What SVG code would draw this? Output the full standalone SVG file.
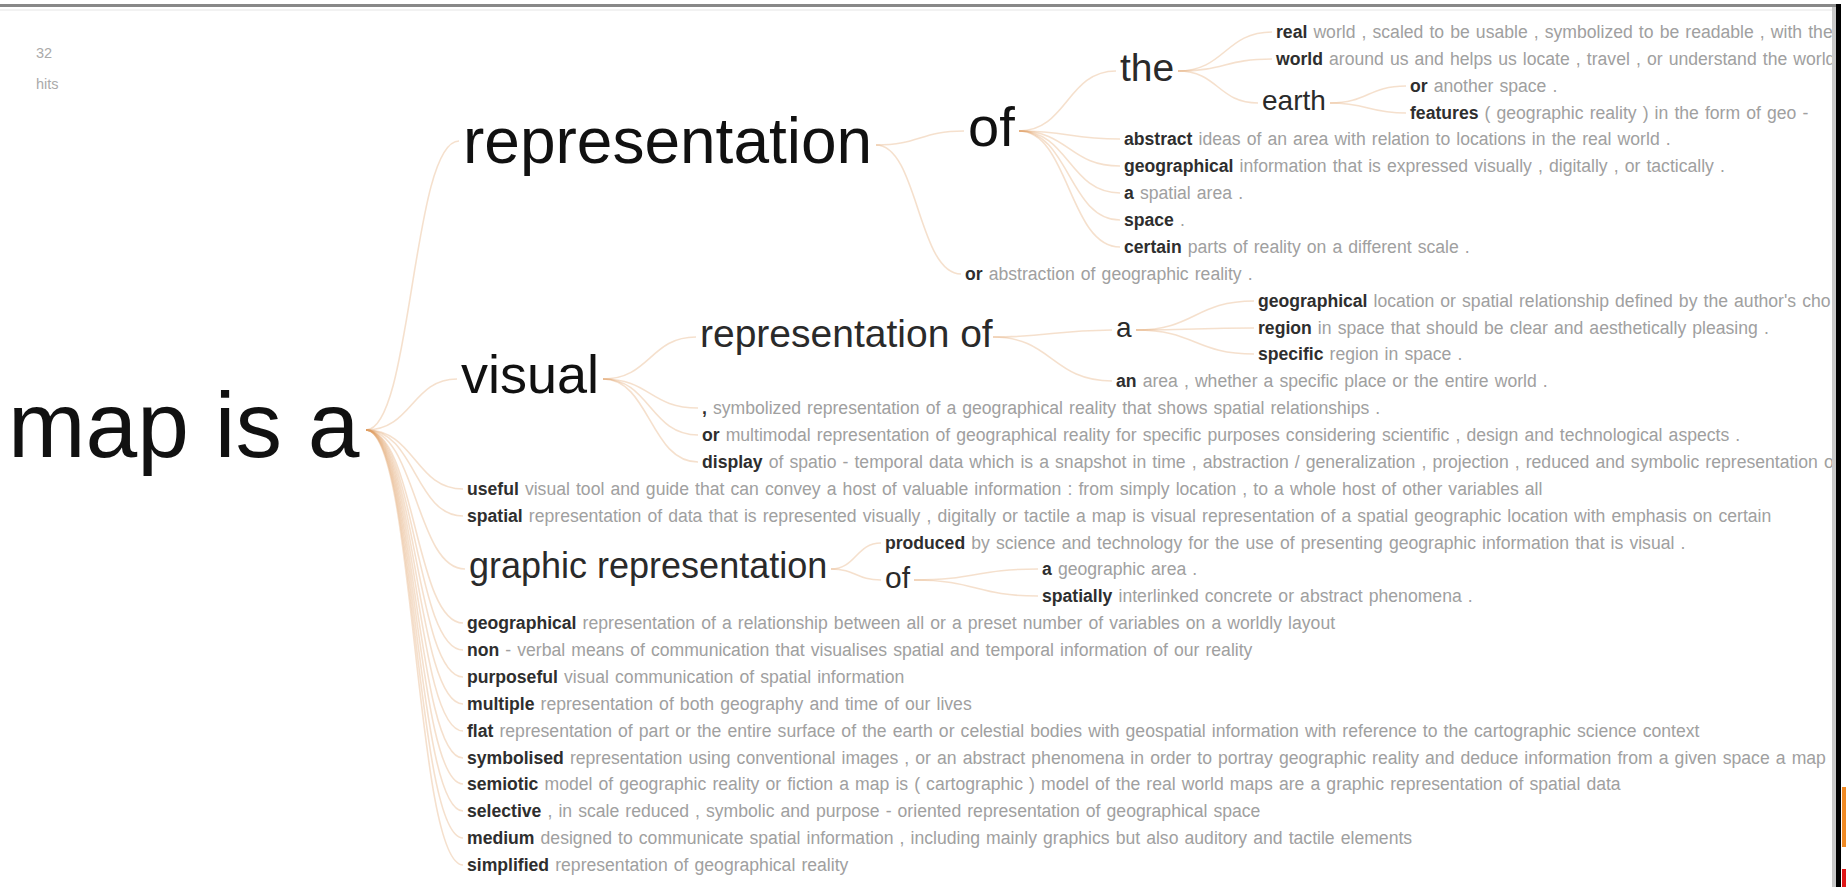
<svg xmlns="http://www.w3.org/2000/svg" width="1846" height="887" viewBox="0 0 1846 887">
<style>
text{font-family:"Liberation Sans",Arial,Helvetica,sans-serif}
.big{fill:#111}
.mid{fill:#2a2a2a}
.leaf{font-size:17.6px;fill:#a0a0a0;word-spacing:1.2px}
.k{font-weight:bold;fill:#2e2e2e}
.meta{font-size:14.5px;fill:#aaa}
.link{fill:none;stroke:#e0a064;stroke-opacity:.32;stroke-width:1.6}
</style>
<rect width="1846" height="887" fill="#fff"/>
<g id="connectors">
<path class="link" d="M366 430C412 430 412 141 459 141"/>
<path class="link" d="M366 430C412 430 412 379 457 379"/>
<path class="link" d="M366 430C415 430 415 489 463 489"/>
<path class="link" d="M366 430C415 430 415 516 463 516"/>
<path class="link" d="M366 430C416 430 416 569 465 569"/>
<path class="link" d="M366 430C415 430 415 623 463 623"/>
<path class="link" d="M366 430C415 430 415 650 463 650"/>
<path class="link" d="M366 430C415 430 415 677 463 677"/>
<path class="link" d="M366 430C415 430 415 704 463 704"/>
<path class="link" d="M366 430C415 430 415 731 463 731"/>
<path class="link" d="M366 430C415 430 415 758 463 758"/>
<path class="link" d="M366 430C415 430 415 784 463 784"/>
<path class="link" d="M366 430C415 430 415 811 463 811"/>
<path class="link" d="M366 430C415 430 415 838 463 838"/>
<path class="link" d="M366 430C415 430 415 865 463 865"/>
<path class="link" d="M876 145C920 145 920 131 964 131"/>
<path class="link" d="M876 145C918 145 918 274 961 274"/>
<path class="link" d="M1019 131C1067 131 1067 71 1116 71"/>
<path class="link" d="M1019 131C1069 131 1069 139 1120 139"/>
<path class="link" d="M1019 131C1069 131 1069 166 1120 166"/>
<path class="link" d="M1019 131C1069 131 1069 193 1120 193"/>
<path class="link" d="M1019 131C1069 131 1069 220 1120 220"/>
<path class="link" d="M1019 131C1069 131 1069 247 1120 247"/>
<path class="link" d="M1178 71C1225 71 1225 32 1272 32"/>
<path class="link" d="M1178 71C1225 71 1225 59 1272 59"/>
<path class="link" d="M1178 71C1218 71 1218 103 1258 103"/>
<path class="link" d="M1330 103C1368 103 1368 86 1406 86"/>
<path class="link" d="M1330 103C1368 103 1368 113 1406 113"/>
<path class="link" d="M603 379C650 379 650 337 696 337"/>
<path class="link" d="M603 379C650 379 650 408 698 408"/>
<path class="link" d="M603 379C650 379 650 435 698 435"/>
<path class="link" d="M603 379C650 379 650 462 698 462"/>
<path class="link" d="M993 337C1052 337 1052 330 1112 330"/>
<path class="link" d="M993 337C1052 337 1052 381 1112 381"/>
<path class="link" d="M1136 330C1195 330 1195 301 1254 301"/>
<path class="link" d="M1136 330C1195 330 1195 328 1254 328"/>
<path class="link" d="M1136 330C1195 330 1195 354 1254 354"/>
<path class="link" d="M831 569C856 569 856 543 881 543"/>
<path class="link" d="M831 569C856 569 856 580 881 580"/>
<path class="link" d="M914 580C976 580 976 569 1038 569"/>
<path class="link" d="M914 580C976 580 976 596 1038 596"/>
</g>
<g id="meta"><text class="meta" x="36" y="58">32</text><text class="meta" x="36" y="89">hits</text></g>
<g id="n-root"><text class="big" x="8" y="457" font-size="93">map is a</text></g>
<g id="n-representation"><text class="big" x="463" y="163" font-size="64">representation</text></g>
<g id="n-of"><text class="big" x="968" y="146" font-size="56">of</text></g>
<g id="n-the"><text class="mid" x="1120" y="81" font-size="39">the</text></g>
<g id="n-earth"><text class="mid" x="1262" y="110" font-size="28">earth</text></g>
<g id="l-real"><text class="leaf" x="1276" y="38"><tspan class="k">real</tspan> world , scaled to be usable , symbolized to be readable , with the</text></g>
<g id="l-world"><text class="leaf" x="1276" y="65"><tspan class="k">world</tspan> around us and helps us locate , travel , or understand the world</text></g>
<g id="l-or-another"><text class="leaf" x="1410" y="92"><tspan class="k">or</tspan> another space .</text></g>
<g id="l-features"><text class="leaf" x="1410" y="119"><tspan class="k">features</tspan> ( geographic reality ) in the form of geo -</text></g>
<g id="l-abstract"><text class="leaf" x="1124" y="145"><tspan class="k">abstract</tspan> ideas of an area with relation to locations in the real world .</text></g>
<g id="l-geographical1"><text class="leaf" x="1124" y="172"><tspan class="k">geographical</tspan> information that is expressed visually , digitally , or tactically .</text></g>
<g id="l-a-spatial"><text class="leaf" x="1124" y="199"><tspan class="k">a</tspan> spatial area .</text></g>
<g id="l-space"><text class="leaf" x="1124" y="226"><tspan class="k">space</tspan> .</text></g>
<g id="l-certain"><text class="leaf" x="1124" y="253"><tspan class="k">certain</tspan> parts of reality on a different scale .</text></g>
<g id="l-or-abstraction"><text class="leaf" x="965" y="280"><tspan class="k">or</tspan> abstraction of geographic reality .</text></g>
<g id="n-visual"><text class="big" x="461" y="393" font-size="54">visual</text></g>
<g id="n-representation-of"><text class="mid" x="700" y="347" font-size="39">representation of</text></g>
<g id="n-a"><text class="mid" x="1116" y="337" font-size="28">a</text></g>
<g id="l-geo-location"><text class="leaf" x="1258" y="307"><tspan class="k">geographical</tspan> location or spatial relationship defined by the author's cho</text></g>
<g id="l-region"><text class="leaf" x="1258" y="334"><tspan class="k">region</tspan> in space that should be clear and aesthetically pleasing .</text></g>
<g id="l-specific"><text class="leaf" x="1258" y="360"><tspan class="k">specific</tspan> region in space .</text></g>
<g id="l-an"><text class="leaf" x="1116" y="387"><tspan class="k">an</tspan> area , whether a specific place or the entire world .</text></g>
<g id="l-symbolized"><text class="leaf" x="702" y="414"><tspan class="k">,</tspan> symbolized representation of a geographical reality that shows spatial relationships .</text></g>
<g id="l-multimodal"><text class="leaf" x="702" y="441"><tspan class="k">or</tspan> multimodal representation of geographical reality for specific purposes considering scientific , design and technological aspects .</text></g>
<g id="l-display"><text class="leaf" x="702" y="468"><tspan class="k">display</tspan> of spatio - temporal data which is a snapshot in time , abstraction / generalization , projection , reduced and symbolic representation o</text></g>
<g id="l-useful"><text class="leaf" x="467" y="495"><tspan class="k">useful</tspan> visual tool and guide that can convey a host of valuable information : from simply location , to a whole host of other variables all</text></g>
<g id="l-spatial"><text class="leaf" x="467" y="522"><tspan class="k">spatial</tspan> representation of data that is represented visually , digitally or tactile a map is visual representation of a spatial geographic location with emphasis on certain</text></g>
<g id="n-graphic"><text class="mid" x="469" y="578" font-size="36">graphic representation</text></g>
<g id="l-produced"><text class="leaf" x="885" y="549"><tspan class="k">produced</tspan> by science and technology for the use of presenting geographic information that is visual .</text></g>
<g id="n-of2"><text class="mid" x="885" y="588" font-size="30">of</text></g>
<g id="l-a-geographic"><text class="leaf" x="1042" y="575"><tspan class="k">a</tspan> geographic area .</text></g>
<g id="l-spatially"><text class="leaf" x="1042" y="602"><tspan class="k">spatially</tspan> interlinked concrete or abstract phenomena .</text></g>
<g id="l-geographical2"><text class="leaf" x="467" y="629"><tspan class="k">geographical</tspan> representation of a relationship between all or a preset number of variables on a worldly layout</text></g>
<g id="l-non"><text class="leaf" x="467" y="656"><tspan class="k">non</tspan> - verbal means of communication that visualises spatial and temporal information of our reality</text></g>
<g id="l-purposeful"><text class="leaf" x="467" y="683"><tspan class="k">purposeful</tspan> visual communication of spatial information</text></g>
<g id="l-multiple"><text class="leaf" x="467" y="710"><tspan class="k">multiple</tspan> representation of both geography and time of our lives</text></g>
<g id="l-flat"><text class="leaf" x="467" y="737"><tspan class="k">flat</tspan> representation of part or the entire surface of the earth or celestial bodies with geospatial information with reference to the cartographic science context</text></g>
<g id="l-symbolised"><text class="leaf" x="467" y="764"><tspan class="k">symbolised</tspan> representation using conventional images , or an abstract phenomena in order to portray geographic reality and deduce information from a given space a map is</text></g>
<g id="l-semiotic"><text class="leaf" x="467" y="790"><tspan class="k">semiotic</tspan> model of geographic reality or fiction a map is ( cartographic ) model of the real world maps are a graphic representation of spatial data</text></g>
<g id="l-selective"><text class="leaf" x="467" y="817"><tspan class="k">selective</tspan> , in scale reduced , symbolic and purpose - oriented representation of geographical space</text></g>
<g id="l-medium"><text class="leaf" x="467" y="844"><tspan class="k">medium</tspan> designed to communicate spatial information , including mainly graphics but also auditory and tactile elements</text></g>
<g id="l-simplified"><text class="leaf" x="467" y="871"><tspan class="k">simplified</tspan> representation of geographical reality</text></g>
<g id="frame">
<rect x="1832" y="0" width="14" height="887" fill="#fff"/>
<rect x="0" y="4" width="1840" height="3" fill="#888"/>
<rect x="0" y="9" width="1832" height="2" fill="#f2f2f2"/>
<rect x="1832" y="7" width="4" height="880" fill="#c8c8c8"/>
<rect x="1836" y="4" width="5" height="883" fill="#000"/>
<rect x="1842" y="787" width="4" height="60" fill="#f08a24"/>
<rect x="1842" y="869" width="4" height="18" fill="#e01818"/>
</g>
</svg>
